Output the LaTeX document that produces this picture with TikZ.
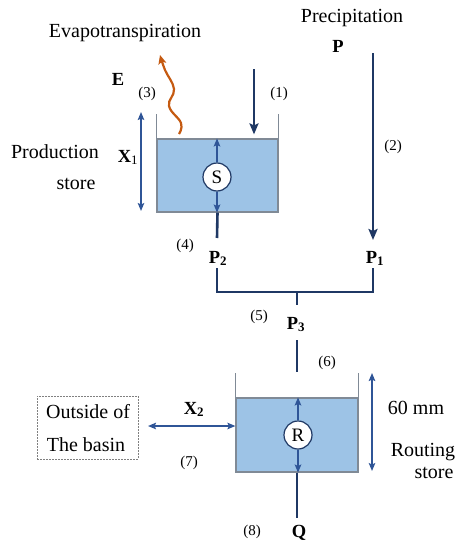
\documentclass[tikz,border=0pt]{standalone}
\usepackage{fontspec}
\setmainfont{Liberation Serif}
\usetikzlibrary{arrows.meta}
\definecolor{navy}{RGB}{31,56,100}
\definecolor{midblue}{RGB}{47,85,151}
\definecolor{water}{RGB}{157,195,230}
\definecolor{rim}{RGB}{128,138,150}
\definecolor{evap}{RGB}{197,90,17}
\begin{document}
\begin{tikzpicture}[x=1pt,y=-1pt,
 lbl/.style={font=\fontsize{20}{22}\selectfont, inner sep=0pt, anchor=base},
 num/.style={font=\fontsize{15}{17}\selectfont, inner sep=0pt},
 sym/.style={font=\fontsize{18.5}{20}\selectfont\bfseries, inner sep=0pt, anchor=base},
 flow/.style={navy, line width=2.6pt},
 flowarrow/.style={flow, -{Stealth[length=11pt,width=9pt,inset=2pt]}},
 dbl/.style={midblue, line width=1.6pt, {Stealth[length=8pt,width=6.5pt,inset=1.5pt]}-{Stealth[length=8pt,width=6.5pt,inset=1.5pt]}},
 sarrow/.style={midblue, line width=1.6pt, -{Stealth[length=8pt,width=6.5pt,inset=1.5pt]}},
 wall/.style={rim, line width=0.8pt},
 waterbox/.style={fill=water, draw=rim, line width=1.2pt, inner sep=0pt},
 storenode/.style={circle, draw=navy, fill=white, line width=1.2pt, minimum size=28pt, inner sep=0pt, font=\fontsize{19}{20}\selectfont}
]
\useasboundingbox (0,0) rectangle (474,554);

% ---------- labels ----------
\node[lbl] (evapt) at (125,37) {Evapotranspiration};
\node[lbl] (prect) at (352,23) {Precipitation};
\node[sym] (P) at (338,52) {P};
\node[sym] (E) at (118,85) {E};
\node[num] (n3) at (147,94) {(3)};
\node[num] (n1) at (279,94) {(1)};
\node[num] (n2) at (393,147) {(2)};
\node[lbl] (prod) at (55,158) {Production};
\node[lbl] (store1) at (76,189) {store};
\node[sym] (X1) at (128,162) {X\textsubscript{\mdseries 1}};
\node[num] (n4) at (185,246) {(4)};
\node[sym] (P2) at (218,263) {P\textsubscript{2}};
\node[sym] (P1) at (375,263) {P\textsubscript{1}};
\node[num] (n5) at (259,317) {(5)};
\node[sym] (P3) at (296,329) {P\textsubscript{3}};
\node[num] (n6) at (327,363) {(6)};
\node[sym] (X2) at (194,414) {X\textsubscript{2}};
\node[lbl] (mm) at (416,414) {60 mm};
\node[lbl] (rout) at (423,456) {Routing};
\node[lbl] (store2) at (434,478) {store};
\node[num] (n7) at (189,463) {(7)};
\node[num] (n8) at (252,532) {(8)};
\node[sym] (Q) at (299,537) {Q};

% outside box
\node[draw=gray, line width=0.8pt, dash pattern=on 1.6pt off 1.4pt, minimum width=101pt, minimum height=63pt, inner sep=0pt] (outbox) at (87.5,427.5) {};
\node[lbl] (out1) at (88,418) {Outside of};
\node[lbl] (out2) at (86,451) {The basin};

% ---------- production store ----------
\node[waterbox, minimum width=121pt, minimum height=73pt] (pwater) at (217.5,175.5) {};
\draw[wall] (pwater.north west) -- ++(0,-24);
\draw[wall] (pwater.north east) -- ++(0,-24);
\node[storenode] (S) at (217,177) {S};
\draw[sarrow] (S.north) -- (S.north |- pwater.north);
\draw[sarrow] (S.south) -- (S.south |- pwater.south);

% ---------- routing store ----------
\node[waterbox, minimum width=122pt, minimum height=74pt] (rwater) at (297,435) {};
\draw[wall] (rwater.north west) -- ++(0,-24);
\draw[wall] (rwater.north east) -- ++(0,-24);
\node[storenode] (R) at (298,435) {R};
\draw[sarrow] (R.north) -- (R.north |- rwater.north);
\draw[sarrow] (R.south) -- (R.south |- rwater.south);

% ---------- coordinates ----------
\coordinate (in1) at (254,69);
\coordinate (ptop) at (373,53);
\coordinate (p1tip) at (373,240);
\coordinate (p2end) at (217,238);
\coordinate (bl) at (217,268);
\coordinate (bbl) at (217,292);
\coordinate (bbr) at (373,292);
\coordinate (br) at (373,268);
\coordinate (stem) at (297,292);
\coordinate (stemend) at (297,305);
\coordinate (p3low) at (297,340);
\coordinate (p3end) at (297,372);
\coordinate (qend) at (297,518);
\coordinate (x1top) at (141,112);
\coordinate (x1bot) at (141,211);
\coordinate (mmtop) at (372,373);
\coordinate (mmbot) at (372,471);
\coordinate (x2end) at (148,426);
\coordinate (evbase) at (179,134);

% ---------- flows ----------
\draw[flowarrow] (in1) -- ([yshift=4pt]in1 |- pwater.north);
\draw[flowarrow] (ptop) -- (p1tip);
\draw[flow] (pwater.south) -- (p2end);
\draw[flow, line join=miter] (bl) -- (bbl) -- (bbr) -- (br);
\draw[flow] (stem) -- (stemend);
\draw[flow] (p3low) -- (p3end);
\draw[flow] (rwater.south) -- (qend);

\draw[dbl] (x1top) -- (x1bot);
\draw[dbl] (mmtop) -- (mmbot);
\draw[dbl] (x2end) -- (x2end -| rwater.west);

\draw[evap, line width=2.2pt, -{Stealth[length=9pt,width=8pt,inset=2pt]}]
  plot[smooth, tension=0.7] coordinates {(evbase) (181,123) (169,106) (174,89) (165,70) (160,55)};
\end{tikzpicture}
\end{document}
